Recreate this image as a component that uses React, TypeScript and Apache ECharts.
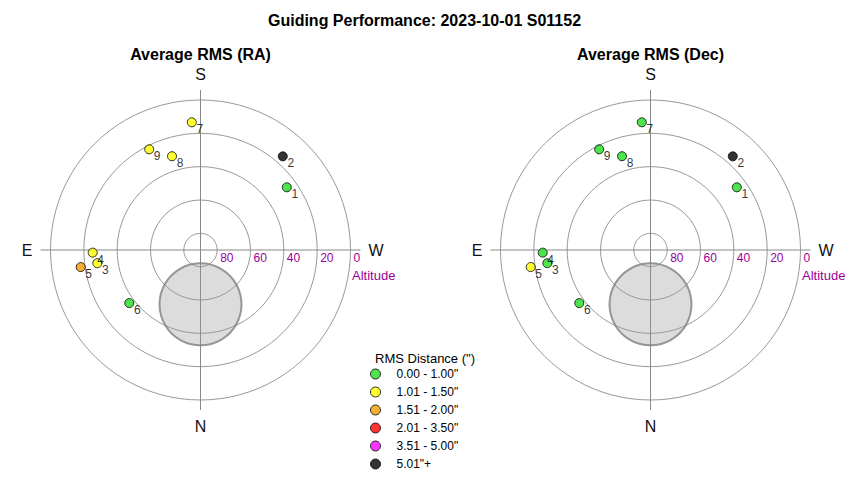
import React, { useEffect, useRef } from 'react';
import * as echarts from 'echarts';

// ---- data ----
const pointIds = ['1', '2', '3', '4', '5', '6', '7', '8', '9'];
const azimuthDeg = [234.0, 221.3, 82.7, 88.6, 81.9, 53.3, 176.1, 163.1, 153.0];
const altitudeDeg = [26.0, 15.2, 27.6, 25.3, 17.4, 36.7, 13.2, 31.2, 22.2];
// RMS bin index of every point (0 = best ... 5 = worst)
const binRA = [0, 5, 1, 1, 2, 0, 1, 1, 1];
const binDec = [0, 5, 0, 0, 1, 0, 0, 0, 0];
const binLabels = ['0.00 - 1.00"', '1.01 - 1.50"', '1.51 - 2.00"', '2.01 - 3.50"', '3.51 - 5.00"', '5.01"+'];
const binColors = ['#22dd22', '#ffff00', '#f59b00', '#ff0000', '#ff00ff', '#000000'];
const compassLabels = ['N', 'E', 'S', 'W'];
const zoneAzimuth = [0];
const zoneAltitude = [57.4];

const mainTitle = 'Guiding Performance: 2023-10-01 S01152';
const panelTitles = ['Average RMS (RA)', 'Average RMS (Dec)'];
const panelBins = [binRA, binDec];
const legendTitle = 'RMS Distance (")';

const FONT = '"Liberation Sans", Arial, sans-serif';
const PURPLE = '#990099';

// azimuth (N=0, E=90) -> angle of a polar whose 0 is at the right, clockwise
const toAngle = (az: number) => (az + 90) % 360;

function buildOption() {
  const centers = [200.5, 650.5];
  const cy = 250;
  const polar: any[] = [];
  const angleAxis: any[] = [];
  const radiusAxis: any[] = [];
  const series: any[] = [];
  const graphic: any[] = [];

  const textEl = (text: string, x: number, y: number, size: number, weight: string, fill: string, align = 'center') => ({
    type: 'text',
    x,
    y,
    style: {
      text,
      fontSize: size,
      fontWeight: weight,
      fontFamily: FONT,
      fill,
      align,
      verticalAlign: 'middle',
    },
  });

  graphic.push(textEl(mainTitle, 424.5, 20, 16, 'bold', '#000'));
  graphic.push(textEl(legendTitle, 425, 358, 13, 'normal', '#000'));

  centers.forEach((cx, p) => {
    const frameIdx = p * 2;
    const dataIdx = p * 2 + 1;
    polar.push({ center: [cx, cy], radius: 160 });
    polar.push({ center: [cx, cy], radius: 150 });

    angleAxis.push({
      polarIndex: frameIdx,
      type: 'value',
      min: 0,
      max: 360,
      interval: 90,
      startAngle: 270,
      clockwise: true,
      axisLine: { show: false },
      axisTick: { show: false },
      splitLine: { show: true, lineStyle: { color: '#888888', width: 1 } },
      axisLabel: {
        show: true,
        margin: 8,
        fontSize: 16,
        fontFamily: FONT,
        color: '#111',
        formatter: (v: number) => compassLabels[Math.round(v / 90) % 4],
      },
    });
    angleAxis.push({
      polarIndex: dataIdx,
      type: 'value',
      min: 0,
      max: 360,
      startAngle: 0,
      clockwise: true,
      show: false,
    });

    radiusAxis.push({ polarIndex: frameIdx, type: 'value', min: 0, max: 1, show: false });
    radiusAxis.push({
      polarIndex: dataIdx,
      type: 'value',
      min: 0,
      max: 90,
      interval: 20,
      inverse: true,
      axisLine: { show: false },
      axisTick: { show: false },
      splitLine: { show: true, lineStyle: { color: '#999999', width: 1 } },
      axisLabel: {
        show: true,
        color: PURPLE,
        fontSize: 12,
        fontFamily: FONT,
        margin: -2,
        align: 'left',
        verticalAlign: 'top',
        padding: [0, 0, 0, 3],
        formatter: (v: number) => (v === 90 ? '' : String(v)),
      },
    });

    series.push({
      type: 'scatter',
      coordinateSystem: 'polar',
      polarIndex: dataIdx,
      symbol: 'circle',
      symbolSize: 82,
      silent: true,
      z: 1,
      itemStyle: { color: 'rgba(150,150,150,0.42)', borderColor: '#808080', borderWidth: 2 },
      data: zoneAzimuth.map((az, i) => [zoneAltitude[i], toAngle(az)]),
    });

    const bins = panelBins[p];
    binLabels.forEach((label, b) => {
      series.push({
        name: label,
        type: 'scatter',
        coordinateSystem: 'polar',
        polarIndex: dataIdx,
        symbol: 'circle',
        symbolSize: 9,
        z: 3,
        itemStyle: { color: binColors[b], borderColor: '#000', borderWidth: 1 },
        label: {
          show: true,
          position: 'inside',
          offset: [8, 7],
          formatter: '{b}',
          color: '#000',
          textBorderWidth: 0,
          textBorderColor: 'transparent',
          fontSize: 12,
          fontFamily: FONT,
        },
        data: pointIds
          .map((id, i) => ({ id, i }))
          .filter(({ i }) => bins[i] === b)
          .map(({ id, i }) => ({ name: id, value: [altitudeDeg[i], toAngle(azimuthDeg[i])] })),
      });
    });

    graphic.push(textEl(panelTitles[p], cx, 54, 16, 'bold', '#000'));
    graphic.push(textEl('Altitude', cx + 151.5, 275, 13, 'normal', PURPLE, 'left'));
  });

  return {
    animation: false,
    backgroundColor: '#ffffff',
    legend: {
      data: binLabels,
      orient: 'vertical',
      left: 365,
      top: 363,
      icon: 'circle',
      itemWidth: 32,
      itemHeight: 10,
      itemGap: 6,
      selectedMode: false,
      textStyle: { fontSize: 12, color: '#000', fontFamily: FONT },
      itemStyle: { borderColor: '#000', borderWidth: 1 },
    },
    polar,
    angleAxis,
    radiusAxis,
    series,
    graphic,
  };
}

export default function App() {
  const ref = useRef<HTMLDivElement>(null);
  useEffect(() => {
    if (!ref.current) return;
    const chart = echarts.init(ref.current, undefined, { renderer: 'svg' });
    chart.setOption(buildOption() as any);
    return () => chart.dispose();
  }, []);
  return (
    <div
      ref={ref}
      style={{ position: 'absolute', left: 0, top: 0, width: 850, height: 480 }}
    />
  );
}
